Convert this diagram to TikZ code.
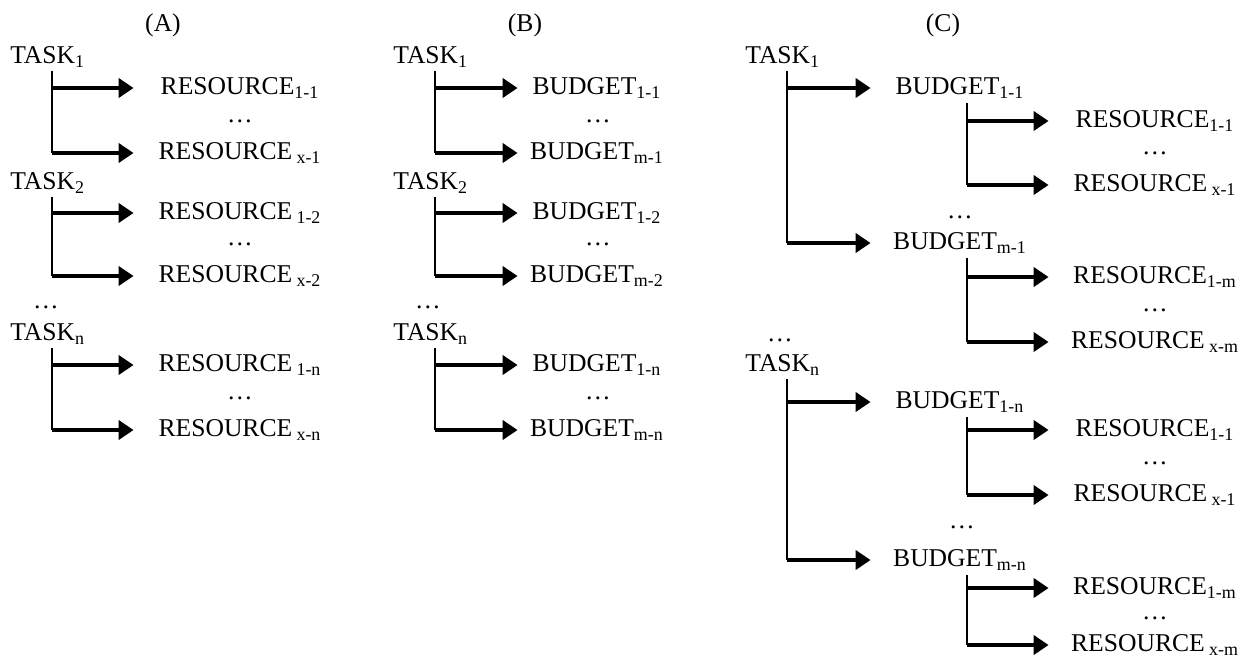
\documentclass[tikz,border=0pt]{standalone}
\usepackage{fontspec}
\setmainfont{Liberation Serif}
\usetikzlibrary{arrows.meta}

\begin{document}
\begin{tikzpicture}[
  x=0.5pt, y=-0.5pt,
  font=\fontsize{12.8}{15}\selectfont,
  lbl/.style={inner sep=0pt},
  task/.style={lbl, anchor=west},
  res/.style={lbl, minimum width=106pt},
  bud/.style={lbl, minimum width=79pt},
  trunk/.style={line width=1pt},
  arr/.style={line width=2pt, -{Triangle[length=7.5pt, width=9.5pt]}},
]
\useasboundingbox (0,0) rectangle (1245,659);

% (A) tasks -> resources
\node[lbl] (ha) at (163,25) {(A)};
\node[task] (a1) at (10,57) {TASK\textsubscript{1}};
\node[res] (a1r1) at (240,88) {RESOURCE\textsubscript{1-1}};
\node[lbl] (a1d) at (240,121) {\dots};
\node[res] (a1rx) at (240,153) {RESOURCE\,\textsubscript{x-1}};
\node[task] (a2) at (10,183) {TASK\textsubscript{2}};
\node[res] (a2r1) at (240,213) {RESOURCE\,\textsubscript{1-2}};
\node[lbl] (a2d) at (240,244) {\dots};
\node[res] (a2rx) at (240,276) {RESOURCE\,\textsubscript{x-2}};
\node[lbl] (ad) at (46,307) {\dots};
\node[task] (an) at (10,334) {TASK\textsubscript{n}};
\node[res] (anr1) at (240,365) {RESOURCE\,\textsubscript{1-n}};
\node[lbl] (and) at (240,398) {\dots};
\node[res] (anrx) at (240,430) {RESOURCE\,\textsubscript{x-n}};

\coordinate (a1s) at ([xshift=20.75pt, yshift=-1.5pt]a1.south west);
\coordinate (a2s) at ([xshift=20.75pt, yshift=-1.5pt]a2.south west);
\coordinate (ans) at ([xshift=20.75pt, yshift=-1.5pt]an.south west);
\draw[trunk] (a1s) -- (a1s |- a1rx);
\draw[arr] (a1s |- a1r1) -- (a1r1.west);
\draw[arr] (a1s |- a1rx) -- (a1rx.west);
\draw[trunk] (a2s) -- (a2s |- a2rx);
\draw[arr] (a2s |- a2r1) -- (a2r1.west);
\draw[arr] (a2s |- a2rx) -- (a2rx.west);
\draw[trunk] (ans) -- (ans |- anrx);
\draw[arr] (ans |- anr1) -- (anr1.west);
\draw[arr] (ans |- anrx) -- (anrx.west);

% (B) tasks -> budgets
\node[lbl] (hb) at (525,25) {(B)};
\node[task] (b1) at (393,57) {TASK\textsubscript{1}};
\node[bud] (b1b1) at (597,88) {BUDGET\textsubscript{1-1}};
\node[lbl] (b1d) at (598,121) {\dots};
\node[bud] (b1bm) at (597,153) {BUDGET\textsubscript{m-1}};
\node[task] (b2) at (393,183) {TASK\textsubscript{2}};
\node[bud] (b2b1) at (597,213) {BUDGET\textsubscript{1-2}};
\node[lbl] (b2d) at (598,244) {\dots};
\node[bud] (b2bm) at (597,276) {BUDGET\textsubscript{m-2}};
\node[lbl] (bd) at (428,307) {\dots};
\node[task] (bn) at (393,334) {TASK\textsubscript{n}};
\node[bud] (bnb1) at (597,365) {BUDGET\textsubscript{1-n}};
\node[lbl] (bnd) at (598,398) {\dots};
\node[bud] (bnbm) at (597,430) {BUDGET\textsubscript{m-n}};

\coordinate (b1s) at ([xshift=20.75pt, yshift=-1.5pt]b1.south west);
\coordinate (b2s) at ([xshift=20.75pt, yshift=-1.5pt]b2.south west);
\coordinate (bns) at ([xshift=20.75pt, yshift=-1.5pt]bn.south west);
\draw[trunk] (b1s) -- (b1s |- b1bm);
\draw[arr] (b1s |- b1b1) -- (b1b1.west);
\draw[arr] (b1s |- b1bm) -- (b1bm.west);
\draw[trunk] (b2s) -- (b2s |- b2bm);
\draw[arr] (b2s |- b2b1) -- (b2b1.west);
\draw[arr] (b2s |- b2bm) -- (b2bm.west);
\draw[trunk] (bns) -- (bns |- bnbm);
\draw[arr] (bns |- bnb1) -- (bnb1.west);
\draw[arr] (bns |- bnbm) -- (bnbm.west);

% (C) tasks -> budgets -> resources
\node[lbl] (hc) at (943,25) {(C)};
\node[task] (c1) at (745,57) {TASK\textsubscript{1}};
\node[bud, minimum width=89pt] (c1b1) at (960,88) {BUDGET\textsubscript{1-1}};
\node[res] (c1b1r1) at (1155,121) {RESOURCE\textsubscript{1-1}};
\node[lbl] (c1b1d) at (1155,153) {\dots};
\node[res] (c1b1rx) at (1155,185) {RESOURCE\,\textsubscript{x-1}};
\node[lbl] (c1d) at (960,217) {\dots};
\node[bud, minimum width=89pt] (c1bm) at (960,243) {BUDGET\textsubscript{m-1}};
\node[res] (c1bmr1) at (1155,277) {RESOURCE\textsubscript{1-m}};
\node[lbl] (c1bmd) at (1155,310) {\dots};
\node[res] (c1bmrx) at (1155,342) {RESOURCE\,\textsubscript{x-m}};
\node[lbl] (cd) at (780,340) {\dots};
\node[task] (cn) at (745,365) {TASK\textsubscript{n}};
\node[bud, minimum width=89pt] (cnb1) at (960,402) {BUDGET\textsubscript{1-n}};
\node[res] (cnb1r1) at (1155,430) {RESOURCE\textsubscript{1-1}};
\node[lbl] (cnb1d) at (1155,463) {\dots};
\node[res] (cnb1rx) at (1155,495) {RESOURCE\,\textsubscript{x-1}};
\node[lbl] (cnd) at (962,527) {\dots};
\node[bud, minimum width=89pt] (cnbm) at (960,560) {BUDGET\textsubscript{m-n}};
\node[res] (cnbmr1) at (1155,588) {RESOURCE\textsubscript{1-m}};
\node[lbl] (cnbmd) at (1155,618) {\dots};
\node[res] (cnbmrx) at (1155,645) {RESOURCE\,\textsubscript{x-m}};

\coordinate (c1s) at ([xshift=20.75pt, yshift=-1.5pt]c1.south west);
\coordinate (cns) at ([xshift=20.75pt, yshift=-1.5pt]cn.south west);
\draw[trunk] (c1s) -- (c1s |- c1bm);
\draw[arr] (c1s |- c1b1) -- (c1b1.west);
\draw[arr] (c1s |- c1bm) -- (c1bm.west);
\draw[trunk] (cns) -- (cns |- cnbm);
\draw[arr] (cns |- cnb1) -- (cnb1.west);
\draw[arr] (cns |- cnbm) -- (cnbm.west);

\coordinate (c1b1s) at ([xshift=3.5pt, yshift=-2pt]c1b1.south);
\coordinate (c1bms) at ([xshift=3.5pt, yshift=-2pt]c1bm.south);
\coordinate (cnb1s) at ([xshift=3.5pt, yshift=-2pt]cnb1.south);
\coordinate (cnbms) at ([xshift=3.5pt, yshift=-2pt]cnbm.south);
\draw[trunk] (c1b1s) -- (c1b1s |- c1b1rx);
\draw[arr] (c1b1s |- c1b1r1) -- (c1b1r1.west);
\draw[arr] (c1b1s |- c1b1rx) -- (c1b1rx.west);
\draw[trunk] (c1bms) -- (c1bms |- c1bmrx);
\draw[arr] (c1bms |- c1bmr1) -- (c1bmr1.west);
\draw[arr] (c1bms |- c1bmrx) -- (c1bmrx.west);
\draw[trunk] (cnb1s) -- (cnb1s |- cnb1rx);
\draw[arr] (cnb1s |- cnb1r1) -- (cnb1r1.west);
\draw[arr] (cnb1s |- cnb1rx) -- (cnb1rx.west);
\draw[trunk] (cnbms) -- (cnbms |- cnbmrx);
\draw[arr] (cnbms |- cnbmr1) -- (cnbmr1.west);
\draw[arr] (cnbms |- cnbmrx) -- (cnbmrx.west);
\end{tikzpicture}
\end{document}
